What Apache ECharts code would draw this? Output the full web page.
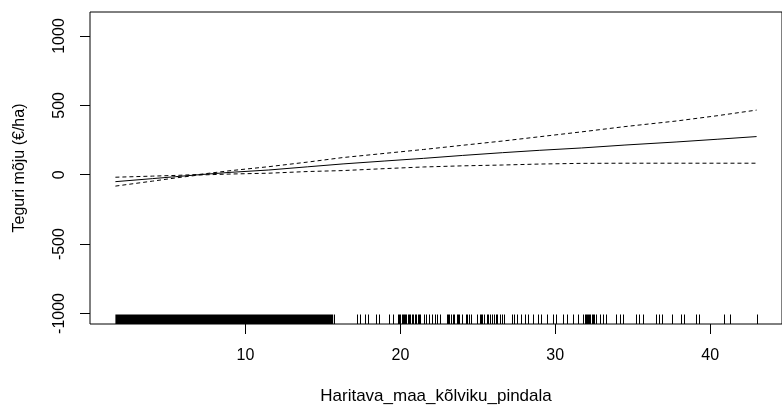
<!DOCTYPE html>
<html>
<head>
<meta charset="utf-8">
<script src="https://cdn.jsdelivr.net/npm/echarts@6/dist/echarts.min.js"></script>
<style>
  html, body { margin: 0; padding: 0; background: #fff; }
  #chart { width: 782px; height: 410px; }
</style>
</head>
<body>
<div id="chart"></div>
<script>
// smooth term estimate and its confidence band
const xGrid = [1.6, 4.0, 5.5, 7.0, 9.0, 11.5, 14.0, 16.3, 19.0, 21.5, 24.0, 26.6, 29.0, 31.7, 34.5, 37.8, 40.5, 43.0];
const fit   = [-50, -28, -14, 0, 17, 34, 57, 78, 99, 118, 139, 159, 176, 193, 214, 236, 256, 275];
const upper = [-18, -10, -5, 2, 29, 58, 91, 124, 154, 182, 212, 243, 274, 309, 347, 387, 426, 466];
const lower = [-82, -46, -23, -2, 5, 11, 23, 30, 44, 56, 64, 70, 77, 82, 83, 83, 83, 83];

// rug: dense block of observations + single ticks
const rugBlock = [1.6, 15.66];
const rugTicks = [15.7, 17.22, 17.37, 17.69, 17.9, 18.44, 18.65, 19.29, 19.5, 19.83, 19.9, 20.0, 20.08, 20.15, 20.22,
  20.3, 20.38, 20.47, 20.55, 20.64, 20.72, 20.79, 20.94, 21.02, 21.11, 21.2, 21.28, 21.5, 21.65, 21.86, 22.07,
  22.22, 22.39, 22.57, 22.99, 23.07, 23.14, 23.29, 23.37, 23.46, 23.63, 23.7, 23.78, 24.0, 24.21, 24.3, 24.42,
  24.57, 24.96, 25.13, 25.2, 25.28, 25.43, 25.6, 25.68, 25.77, 25.92, 26.07, 26.15, 26.24, 26.41, 26.56, 26.71,
  27.2, 27.35, 27.52, 27.78, 28.06, 28.27, 28.59, 28.91, 29.06, 29.45, 29.87, 30.04, 30.52, 30.73, 31.16,
  31.48, 31.8, 31.9, 31.97, 32.05, 32.12, 32.2, 32.27, 32.35, 32.44, 32.52, 32.61, 32.9, 33.08, 33.29, 33.93,
  34.19, 34.36, 35.21, 35.42, 35.64, 36.49, 36.71, 36.92, 37.56, 38.1, 38.31, 39.06, 39.27, 40.87, 41.3, 43.03];

const xTicks = [10, 20, 30, 40];
const yTicks = [-1000, -500, 0, 500, 1000];
const xRange = [-0.04, 44.64];
const yRange = [-1076, 1173];
const rugLen = 9.5; // px

const font = '"Liberation Sans", Arial, sans-serif';
const chart = echarts.init(document.getElementById('chart'));

const pairs = (ys) => xGrid.map((x, i) => [x, ys[i]]);

const option = {
  backgroundColor: '#fff',
  animation: false,
  grid: {
    left: 90, top: 12, width: 697, height: 313,
    show: true, borderColor: '#000', borderWidth: 1, backgroundColor: 'transparent'
  },
  xAxis: {
    type: 'value', min: xRange[0], max: xRange[1],
    name: 'Haritava_maa_kõlviku_pindala', nameLocation: 'middle', nameGap: 64,
    nameTextStyle: { fontFamily: font, fontSize: 17, color: '#000' },
    splitLine: { show: false },
    axisLine: { show: false, onZero: false },
    axisTick: { show: true, length: 10, customValues: xTicks, lineStyle: { color: '#000' } },
    axisLabel: { customValues: xTicks, margin: 24, fontFamily: font, fontSize: 16, color: '#000',
      formatter: v => String(v) }
  },
  yAxis: {
    type: 'value', min: yRange[0], max: yRange[1],
    name: 'Teguri mõju (€/ha)', nameLocation: 'middle', nameGap: 62, nameRotate: 90,
    nameTextStyle: { fontFamily: font, fontSize: 16, color: '#000' },
    splitLine: { show: false },
    axisLine: { show: false, onZero: false },
    axisTick: { show: true, length: 10, customValues: yTicks, lineStyle: { color: '#000' } },
    axisLabel: { customValues: yTicks, rotate: 90, margin: 22, fontFamily: font, fontSize: 16, color: '#000',
      formatter: v => String(v) }
  },
  series: [
    {
      type: 'line', data: pairs(fit), showSymbol: false, silent: true,
      lineStyle: { color: '#000', width: 1 }
    },
    {
      type: 'line', data: pairs(upper), showSymbol: false, silent: true,
      lineStyle: { color: '#000', width: 1, type: [4, 3] }
    },
    {
      type: 'line', data: pairs(lower), showSymbol: false, silent: true,
      lineStyle: { color: '#000', width: 1, type: [4, 3] }
    },
    {
      type: 'custom', silent: true,
      data: [rugBlock],
      renderItem: (params, api) => {
        const a = api.coord([api.value(0), yRange[0]]);
        const b = api.coord([api.value(1), yRange[0]]);
        return {
          type: 'rect',
          shape: { x: a[0], y: a[1] - rugLen, width: b[0] - a[0], height: rugLen },
          style: { fill: '#000' }
        };
      }
    },
    {
      type: 'custom', silent: true,
      data: rugTicks.map(v => [v]),
      renderItem: (params, api) => {
        const p = api.coord([api.value(0), yRange[0]]);
        const x = Math.round(p[0]) + 0.5;
        return {
          type: 'line',
          shape: { x1: x, y1: p[1], x2: x, y2: p[1] - rugLen },
          style: { stroke: '#000', lineWidth: 1 }
        };
      }
    }
  ]
};
chart.setOption(option);
</script>
</body>
</html>
